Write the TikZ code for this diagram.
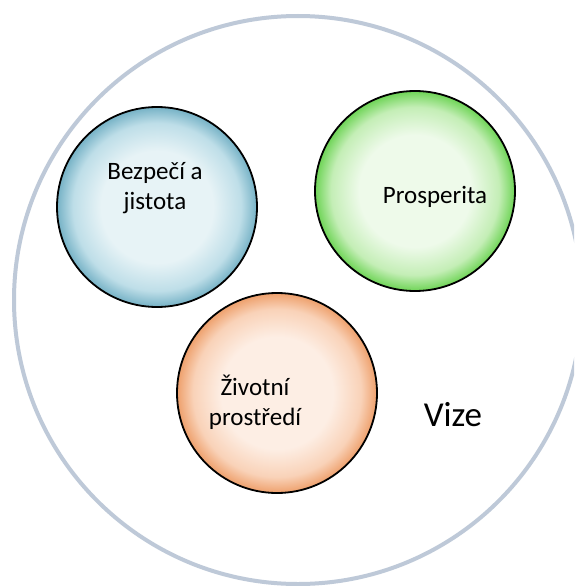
\documentclass[tikz,border=0pt]{standalone}
\usepackage{fontspec}
\setmainfont{Carlito}
\usepackage{tikz}
\usetikzlibrary{calc,positioning}

\definecolor{visionrim}{RGB}{190,201,216}
\definecolor{bluerim}{RGB}{118,178,198}
\definecolor{bluemid}{RGB}{190,222,232}
\definecolor{blueinner}{RGB}{231,243,246}
\definecolor{greenrim}{RGB}{110,212,86}
\definecolor{greenmid}{RGB}{196,238,182}
\definecolor{greeninner}{RGB}{238,250,234}
\definecolor{orangerim}{RGB}{238,160,108}
\definecolor{orangemid}{RGB}{249,210,184}
\definecolor{orangeinner}{RGB}{253,238,228}

\pgfdeclareradialshading{bubbleblue}{\pgfpoint{0bp}{0bp}}{color(0bp)=(blueinner); color(14bp)=(blueinner); color(21bp)=(bluemid); color(25bp)=(bluerim); color(50bp)=(bluerim)}
\pgfdeclareradialshading{bubblegreen}{\pgfpoint{0bp}{0bp}}{color(0bp)=(greeninner); color(14bp)=(greeninner); color(21bp)=(greenmid); color(25bp)=(greenrim); color(50bp)=(greenrim)}
\pgfdeclareradialshading{bubbleorange}{\pgfpoint{0bp}{0bp}}{color(0bp)=(orangeinner); color(14bp)=(orangeinner); color(21bp)=(orangemid); color(25bp)=(orangerim); color(50bp)=(orangerim)}

\tikzset{
  vision/.style={draw=visionrim, line width=4pt},
  bubble/.style={circle, draw=black, line width=1.8pt, minimum size=200pt, inner sep=0pt},
  bubbletext/.style={font=\fontsize{25}{30}\selectfont, align=center, inner sep=0pt},
}

\begin{document}
\begin{tikzpicture}[x=1pt,y=-1pt]
\useasboundingbox (0,0) rectangle (574,586);
\clip (0,0) rectangle (574,586);
\fill[white] (0,0) rectangle (574,586);
\draw[vision] (298,300) circle (284);
\node[bubble, shading=bubbleblue] (safety) at (157,207) {};
\node[bubble, shading=bubblegreen] (prosp) at (415,191) {};
\node[bubble, shading=bubbleorange] (envir) at (277,393) {};
\node[bubbletext] (safetytext) at ($(safety)+(-2,-19)$) {Bezpečí a\\jistota};
\node[bubbletext] (prosptext) at ($(prosp)+(20,6)$) {Prosperita};
\node[bubbletext] (envirtext) at ($(envir)+(-22,9)$) {Životní\\prostředí};
\node[bubbletext, font=\fontsize{35}{42}\selectfont] (vize) at (453,415) {Vize};
\end{tikzpicture}
\end{document}
